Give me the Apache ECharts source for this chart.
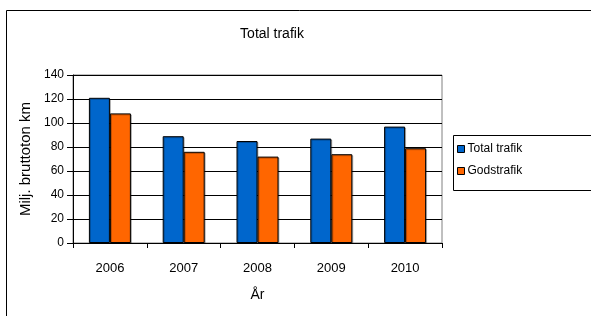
<!DOCTYPE html>
<html>
<head>
<meta charset="utf-8">
<script src="https://cdn.jsdelivr.net/npm/echarts@6/dist/echarts.min.js"></script>
<style>
  html, body { margin: 0; padding: 0; background: #fff; }
  #main { width: 591px; height: 316px; }
</style>
</head>
<body>
<div id="main"></div>
<script>
// data
const years = ['2006', '2007', '2008', '2009', '2010'];
const totalTrafik = [121, 89, 85, 87, 97];
const godstrafik = [108, 76, 72, 74, 79];
const yTicks = { min: 0, max: 140, interval: 20 };

const font = '"Liberation Sans", Arial, sans-serif';
let chart = echarts.init(document.getElementById('main'));
chart.setOption({
  animation: false,
  textStyle: { fontFamily: font, color: '#000' },
  title: {
    text: 'Total trafik',
    left: 267, top: 22,
    textAlign: 'center',
    textStyle: { fontFamily: font, fontSize: 14, fontWeight: 'normal', color: '#000' }
  },
  graphic: [
    { type: 'rect', shape: { x: 6.5, y: 10.5, width: 600, height: 320 }, style: { fill: null, stroke: '#000', lineWidth: 1 }, silent: true },
    { type: 'rect', shape: { x: 453.5, y: 135.5, width: 150, height: 55 }, style: { fill: '#fff', stroke: '#000', lineWidth: 1 }, z: 0, silent: true }
  ],
  legend: {
    orient: 'vertical',
    left: 457, top: 143,
    itemWidth: 7, itemHeight: 7, itemGap: 10,
    padding: 0,
    textStyle: { fontFamily: font, fontSize: 12, color: '#000', padding: [0, 0, 0, -2] },
    data: [
      { name: 'Total trafik', icon: 'rect', itemStyle: { borderColor: '#000', borderWidth: 1 } },
      { name: 'Godstrafik', icon: 'rect', itemStyle: { borderColor: '#000', borderWidth: 1 } }
    ]
  },
  grid: {
    left: 73, right: 149, top: 75, bottom: 73,
    show: true, borderColor: '#808080', borderWidth: 1,
    containLabel: false
  },
  xAxis: {
    type: 'category',
    data: years,
    name: 'År', nameLocation: 'middle', nameGap: 45,
    nameTextStyle: { fontFamily: font, fontSize: 14, color: '#000' },
    axisLine: { lineStyle: { color: '#000' } },
    axisTick: { show: true, alignWithLabel: false, length: 5, lineStyle: { color: '#000' } },
    axisLabel: { fontFamily: font, fontSize: 13, color: '#000', margin: 19 }
  },
  yAxis: {
    type: 'value',
    min: yTicks.min, max: yTicks.max, interval: yTicks.interval,
    name: 'Milj. bruttoton km', nameLocation: 'middle', nameGap: 34,
    nameTextStyle: { fontFamily: font, fontSize: 15, color: '#000' },
    axisLine: { show: true, lineStyle: { color: '#000' } },
    axisTick: { show: true, length: 6, lineStyle: { color: '#000' } },
    axisLabel: { fontFamily: font, fontSize: 12, color: '#000', margin: 9 },
    splitLine: { lineStyle: { color: '#000', width: 1 } }
  },
  series: [
    {
      name: 'Total trafik', type: 'bar', data: totalTrafik,
      barWidth: 21, barGap: '0%',
      itemStyle: { color: '#0066CC', borderColor: '#000', borderWidth: 1,
        shadowColor: 'rgba(0,0,0,0.25)', shadowOffsetX: 1, shadowOffsetY: 1 }
    },
    {
      name: 'Godstrafik', type: 'bar', data: godstrafik,
      barWidth: 21, barGap: '0%',
      itemStyle: { color: '#FF6600', borderColor: '#000', borderWidth: 1,
        shadowColor: 'rgba(0,0,0,0.25)', shadowOffsetX: 1, shadowOffsetY: 1 }
    }
  ]
});
</script>
</body>
</html>
